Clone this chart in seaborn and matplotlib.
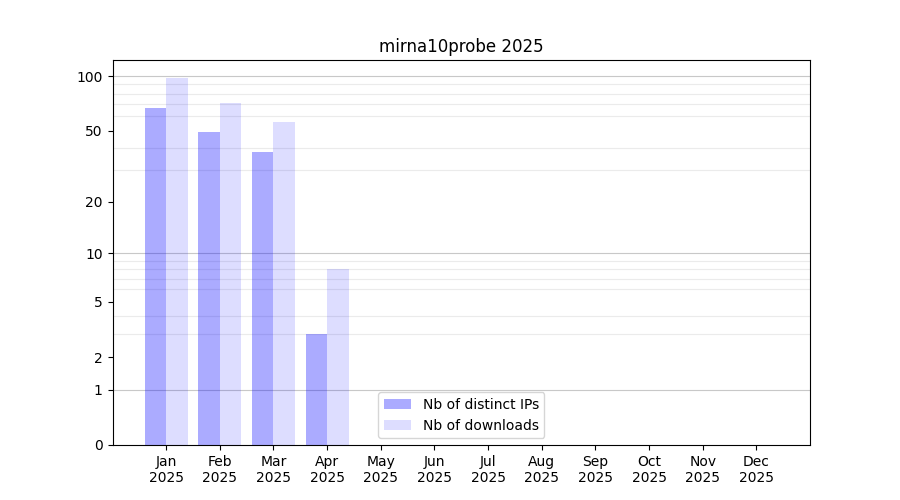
import matplotlib
matplotlib.use("Agg")
import matplotlib.pyplot as plt
import numpy as np
import pandas as pd
import seaborn as sns

months = ["Jan", "Feb", "Mar", "Apr", "May", "Jun",
          "Jul", "Aug", "Sep", "Oct", "Nov", "Dec"]
year = "2025"
distinct_ips = [67, 49, 38, 3, 0, 0, 0, 0, 0, 0, 0, 0]
downloads = [98, 71, 56, 8, 0, 0, 0, 0, 0, 0, 0, 0]
series_names = ["Nb of distinct IPs", "Nb of downloads"]
ytick_values = [0, 1, 2, 5, 10, 20, 50, 100]


def forward(y):
    return np.log10(1 + np.clip(y, 0, None))


def inverse(y):
    return 10 ** y - 1


def main():
    df = pd.DataFrame({
        "month": months * 2,
        "value": distinct_ips + downloads,
        "series": [series_names[0]] * 12 + [series_names[1]] * 12,
    })

    fig, ax = plt.subplots(figsize=(9, 5), dpi=100)
    sns.barplot(data=df, x="month", y="value", hue="series", order=months,
                hue_order=series_names, palette=["blue", "blue"],
                saturation=1, width=0.8, legend=False, ax=ax, linewidth=0)

    alphas = [0.33, 0.135]
    for cont, a in zip(ax.containers, alphas):
        for p in cont.patches:
            p.set_alpha(a)
            p.set_linewidth(0)
            p.set_zorder(2)

    ax.set_yscale("function", functions=(forward, inverse))

    # minor grid at every 1..9 x decade, darker lines at decades
    minor = [m * 10 ** e for e in range(3) for m in range(1, 10)]
    ax.set_yticks(minor, minor=True)
    ax.tick_params(axis="y", which="minor", length=0)
    ax.grid(False)
    ax.set_axisbelow(True)
    ax.yaxis.grid(True, which="minor", color="#ebebeb", linewidth=0.8)
    for d in [1, 10, 100]:
        ax.axhline(d, color="#c8c8c8", linewidth=0.8, zorder=0.9)
    ax.set_yticks(ytick_values)
    ax.set_yticklabels([str(v) for v in ytick_values])
    ax.set_ylim(0, max(downloads) * 1.25)

    ax.set_xticks(range(len(months)))
    ax.set_xticklabels([f"{m}\n{year}" for m in months])
    ax.set_xlim(-1, len(months))
    ax.set_xlabel("")
    ax.set_ylabel("")
    ax.set_title(f"mirna10probe {year}")

    ax.legend(ax.containers, series_names, loc="lower center")

    fig.savefig("out.png", dpi=100)
    plt.close(fig)


if __name__ == "__main__":
    main()
